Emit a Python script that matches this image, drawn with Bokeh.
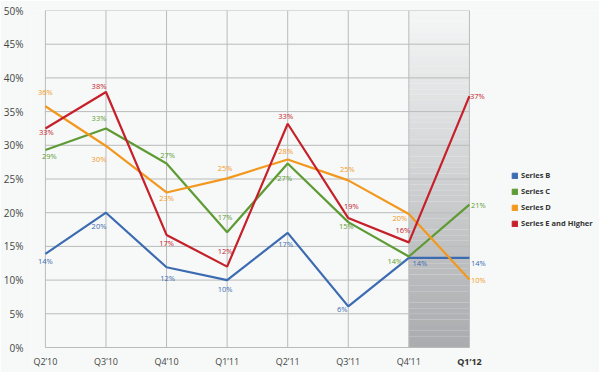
from bokeh.plotting import figure
from bokeh.models import (ColumnDataSource, Range1d, FixedTicker, Legend, LegendItem,
                          CustomJSTickFormatter)
from bokeh.core.properties import value
from bokeh.embed import file_html
from bokeh.resources import INLINE

quarters = ["Q2’10", "Q3’10", "Q4’10", "Q1’11", "Q2’11", "Q3’11", "Q4’11", "Q1’12"]
series_names = ["Series B", "Series C", "Series D", "Series E and Higher"]
series_b = [13.9, 20.0, 11.9, 10.0, 17.0, 6.1, 13.3, 13.3]
series_c = [29.3, 32.5, 27.3, 17.1, 27.3, 18.6, 13.5, 21.2]
series_d = [35.8, 29.9, 23.0, 25.1, 27.9, 24.8, 19.8, 10.1]
series_e = [32.5, 37.9, 16.7, 12.0, 33.2, 19.2, 15.6, 37.3]
labels_b = ["14%", "20%", "12%", "10%", "17%", "6%", "14%", "14%"]
labels_c = ["29%", "33%", "27%", "17%", "27%", "15%", "14%", "21%"]
labels_d = ["36%", "30%", "23%", "25%", "28%", "25%", "20%", "10%"]
labels_e = ["33%", "38%", "17%", "12%", "33%", "19%", "16%", "37%"]
y_ticks = [0, 5, 10, 15, 20, 25, 30, 35, 40, 45, 50]

# styling: label offsets in screen pixels (dx, dy downwards)
off_b = [(0, 7), (-7, 13), (1, 11), (-2, 9), (-2, 11), (-6, 3), (11, 5), (9, 5)]
off_c = [(4, 6), (-7, -10), (1, -8), (-2, -15), (-3, 15), (-2, 4), (-14, 4), (9, 0)]
off_d = [(0, -14), (-7, 13), (0, 6), (-2, -10), (-2, -8), (-1, -11), (-9, 4), (9, 1)]
off_e = [(1, 4), (-7, -6), (0, 8), (-2, -16), (-2, -8), (3, -12), (-6, -12), (8, 0)]

colors = ["#3d6bb2", "#5f9b35", "#f3981f", "#c6202b"]
bg = "#f6f9f7"
grid_col = "#b9bbbb"
FONT = "Open Sans"
NAN = float("nan")

W, H = 599, 372
# layout (pixels): plot box left/right/top/bottom
PL, PR, PT, PB = 41, 468, 10, 347
FL = 27  # frame left edge
nq = len(quarters)
ymax = y_ticks[-1]
px_x = (PR - PL) / (nq - 1)
px_y = (PB - PT) / ymax

p = figure(width=W, height=H, output_backend="svg", toolbar_location=None,
           x_range=Range1d(-(PL - FL) / px_x, (nq - 1) + (W - PR) / px_x),
           y_range=Range1d(-(H - PB) / px_y, ymax),
           min_border_left=FL, min_border_right=0, min_border_top=PT, min_border_bottom=0)
p.background_fill_color = bg
p.border_fill_color = bg
p.outline_line_color = None
p.grid.visible = False
p.xaxis.visible = False

# shaded last period (vertical gradient)
n = 60
top_c = (0xf5, 0xf6, 0xf6)
bot_c = (0xa9, 0xab, 0xae)
sx0, sx1, sb, st, sc = [], [], [], [], []
for i in range(n):
    t = (i + 0.5) / n
    c = tuple(int(round(top_c[k] + (bot_c[k] - top_c[k]) * t)) for k in range(3))
    sx0.append(nq - 2)
    sx1.append(nq - 1)
    st.append(ymax - ymax * i / n)
    sb.append(ymax - ymax * (i + 1) / n)
    sc.append("#%02x%02x%02x" % c)
p.quad(left=sx0, right=sx1, bottom=sb, top=st, fill_color=sc, line_color=None)

# grid lines
xs = list(range(nq))
p.segment(x0=xs, x1=xs, y0=[0] * nq, y1=[ymax] * nq, line_color=grid_col, line_width=1)
p.segment(x0=[0] * len(y_ticks), x1=[nq - 1] * len(y_ticks), y0=y_ticks, y1=y_ticks,
          line_color=grid_col, line_width=1)

# y axis
p.yaxis.ticker = FixedTicker(ticks=y_ticks)
p.yaxis.formatter = CustomJSTickFormatter(code="return tick.toFixed(0) + '%';")
p.yaxis.axis_line_color = None
p.yaxis.major_tick_line_color = None
p.yaxis.minor_tick_line_color = None
p.yaxis.major_label_standoff = 2
p.yaxis.major_label_text_font = FONT
p.yaxis.major_label_text_font_size = "10px"
p.yaxis.major_label_text_color = "#454545"

all_series = [series_b, series_c, series_d, series_e]
all_labels = [labels_b, labels_c, labels_d, labels_e]
all_offs = [off_b, off_c, off_d, off_e]

for vals, labs, offs, col in zip(all_series, all_labels, all_offs, colors):
    src = ColumnDataSource(dict(x=xs, y=vals, t=labs,
                                dx=[o[0] for o in offs], dy=[o[1] for o in offs]))
    p.line("x", "y", source=src, line_color=col, line_width=2.2)
    p.text("x", "y", text="t", source=src, x_offset="dx", y_offset="dy",
           text_color=col, text_font=value(FONT), text_font_size="7.5px",
           text_align="center", text_baseline="middle")

# x tick labels (last one bold)
ylab = -14 / px_y
p.text(x=xs[:-1], y=[ylab] * (nq - 1), text=quarters[:-1], text_font=value(FONT),
       text_font_size="9px", text_color="#454545", text_align="center",
       text_baseline="middle")
p.text(x=[xs[-1]], y=[ylab], text=[quarters[-1]], text_font=value(FONT),
       text_font_size="9px", text_font_style="bold", text_color="#333333",
       text_align="center", text_baseline="middle")

# legend with square swatches (renderers hold a single NaN so nothing shows in the plot)
items = []
for name, col in zip(series_names, colors):
    r = p.quad(left=[NAN], right=[NAN], bottom=[NAN], top=[NAN],
               fill_color=col, line_color=col)
    items.append(LegendItem(label=name, renderers=[r]))
legend = Legend(items=items, location=(507 - FL, H - 228), padding=0, margin=0,
                glyph_width=7, glyph_height=7, label_height=10, label_standoff=3,
                spacing=6, background_fill_alpha=0, border_line_color=None,
                label_text_font=FONT, label_text_font_size="7.5px",
                label_text_font_style="bold", label_text_color="#333333")
p.add_layout(legend)

open("out.html", "w").write(file_html(p, INLINE))
